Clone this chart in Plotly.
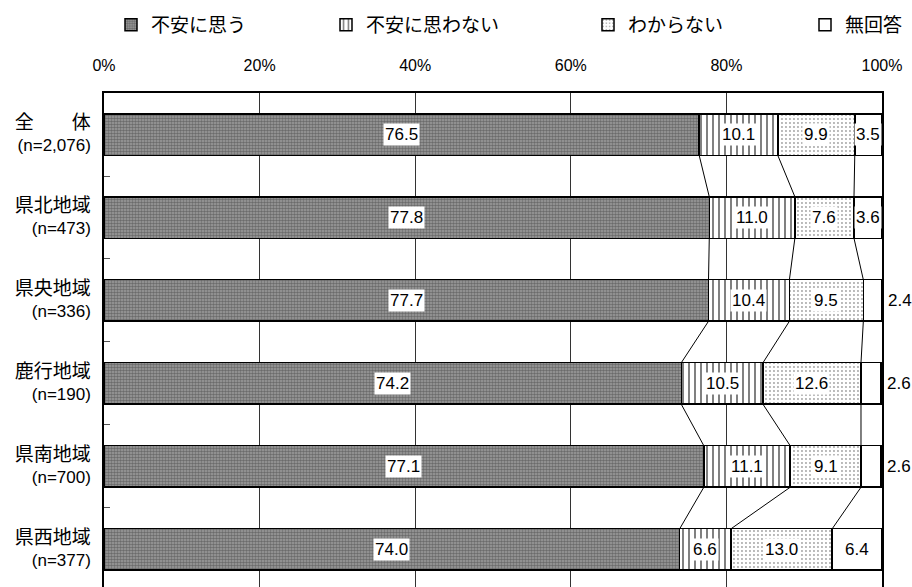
import plotly.graph_objects as go

# ---- data ----
categories = ["全　　体", "県北地域", "県央地域", "鹿行地域", "県南地域", "県西地域"]
sample_sizes = ["(n=2,076)", "(n=473)", "(n=336)", "(n=190)", "(n=700)", "(n=377)"]
series_names = ["不安に思う", "不安に思わない", "わからない", "無回答"]
worried = [76.5, 77.8, 77.7, 74.2, 77.1, 74.0]
not_worried = [10.1, 11.0, 10.4, 10.5, 11.1, 6.6]
dont_know = [9.9, 7.6, 9.5, 12.6, 9.1, 13.0]
no_answer = [3.5, 3.6, 2.4, 2.6, 2.6, 6.4]
x_ticks = [0, 20, 40, 60, 80, 100]
x_tick_labels = ["0%", "20%", "40%", "60%", "80%", "100%"]

series = [worried, not_worried, dont_know, no_answer]
ypos = list(range(len(categories)))

JP = "Noto Sans CJK JP"
NUM = "Liberation Sans, Arial, sans-serif"

styles = [
    dict(color="#9a9a9a", pattern=dict(shape=".", bgcolor="#9e9e9e", fgcolor="#383838", size=3, solidity=0.55)),
    dict(color="white", pattern=dict(shape="|", bgcolor="white", fgcolor="black", size=6, solidity=0.33)),
    dict(color="white", pattern=dict(shape=".", bgcolor="white", fgcolor="#444444", size=4, solidity=0.18)),
    dict(color="white"),
]
legend_ids = ["legend", "legend2", "legend3", "legend4"]

fig = go.Figure()
for name, vals, st, lg in zip(series_names, series, styles, legend_ids):
    fig.add_trace(go.Bar(
        x=vals, y=ypos, orientation="h", width=0.5, name=name,
        marker=dict(line=dict(color="black", width=1.5), **st),
        legend=lg, hoverinfo="skip",
    ))

# cumulative boundaries
cum = []
run = [0.0] * len(categories)
for vals in series:
    run = [round(r + v, 1) for r, v in zip(run, vals)]
    cum.append(run)

# connector lines between consecutive bars
cx, cy = [], []
half = 0.25
for k in range(3):
    for i in range(len(categories) - 1):
        cx += [cum[k][i], cum[k][i + 1], None]
        cy += [ypos[i] + half, ypos[i + 1] - half, None]
fig.add_trace(go.Scatter(x=cx, y=cy, mode="lines", line=dict(color="black", width=1),
                         showlegend=False, hoverinfo="skip"))

# value labels
annotations = []
for s, vals in enumerate(series):
    for i, v in enumerate(vals):
        start = cum[s][i] - v
        if s == 3 and v < 3:
            annotations.append(dict(x=cum[s][i], y=ypos[i], text=f"{v:.1f}", showarrow=False,
                                    xanchor="left", xshift=4,
                                    font=dict(family=NUM, size=17, color="black")))
        else:
            annotations.append(dict(x=start + v / 2, y=ypos[i], text=f"{v:.1f}", showarrow=False,
                                    bgcolor="white", borderpad=1,
                                    font=dict(family=NUM, size=17, color="black")))

ticktext = [f"<span style='font-family:{JP};font-size:19px'>{c}</span><br>{n}"
            for c, n in zip(categories, sample_sizes)]

plot_left, plot_right, plot_top, H, W = 104, 882, 93, 587, 912
pw = plot_right - plot_left
ph = H - plot_top

def lx(px):
    return (px - plot_left) / pw

def ly(py):
    return (H - py) / ph

legend_text_x = [153, 368, 630, 847]
leg_common = dict(orientation="h", xanchor="left", yanchor="middle", bgcolor="rgba(0,0,0,0)",
                  font=dict(family=JP, size=19, color="black"), itemclick=False)
layout_legends = {}
for lg, tx in zip(legend_ids, legend_text_x):
    layout_legends[lg] = dict(x=lx(tx - 42), y=ly(25), **leg_common)

fig.update_layout(
    width=W, height=H,
    margin=dict(l=plot_left, r=W - plot_right, t=plot_top, b=0, autoexpand=False),
    barmode="stack",
    plot_bgcolor="white", paper_bgcolor="white",
    annotations=annotations,
    **layout_legends,
    xaxis=dict(side="top", range=[0, 100], tickvals=x_ticks, ticktext=x_tick_labels,
               showgrid=True, gridcolor="#333333", gridwidth=1, zeroline=False,
               showline=True, linecolor="black", linewidth=1.5, ticks="",
               ticklabelstandoff=14,
               tickfont=dict(family=NUM, size=16, color="black"), fixedrange=True),
    yaxis=dict(range=[5.452, -0.5], tickvals=ypos, ticktext=ticktext, ticks="",
               showgrid=False, zeroline=False, showline=True, mirror=True,
               linecolor="black", linewidth=1.5, ticklabelstandoff=8,
               minor=dict(tickmode="array", tickvals=[i + 0.5 for i in ypos],
                          ticks="inside", ticklen=6, tickcolor="#555555", showgrid=False),
               tickfont=dict(family=NUM, size=17, color="black"), fixedrange=True),
)

fig.write_html("out.html", config={"displayModeBar": False},
               post_script="document.body.style.margin='0';document.body.style.overflow='hidden';")
